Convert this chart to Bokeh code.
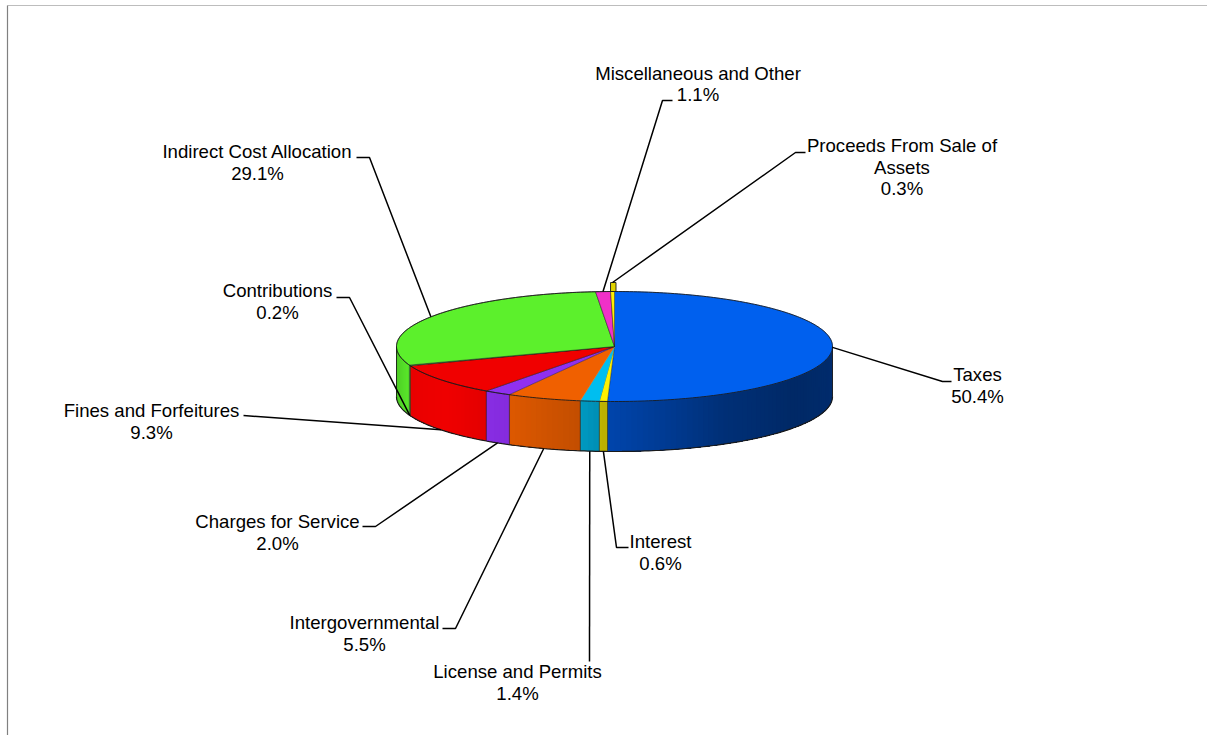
import numpy as np
from bokeh.plotting import figure
from bokeh.models import Range1d
from bokeh.embed import file_html
from bokeh.resources import INLINE
from bokeh.core.properties import value

# Revenue sources in percent, clockwise from twelve o'clock
categories = ["Taxes", "Interest", "License and Permits", "Intergovernmental",
              "Charges for Service", "Fines and Forfeitures", "Contributions",
              "Indirect Cost Allocation", "Miscellaneous and Other",
              "Proceeds From Sale of Assets"]
shares = [50.4, 0.6, 1.4, 5.5, 2.0, 9.3, 0.2, 29.1, 1.1, 0.3]
share_labels = ["50.4%", "0.6%", "1.4%", "5.5%", "2.0%", "9.3%", "0.2%", "29.1%", "1.1%", "0.3%"]
colors = ["#0060EE", "#FFF000", "#00BEF0", "#F06000", "#9030F0",
          "#F00000", "#40E040", "#5CF02C", "#F030C8", "#FFF000"]

# Callout layout: text lines, text centre, first line middle, elbow and hook end
label_lines = [["Taxes"], ["Interest"], ["License and Permits"], ["Intergovernmental"],
               ["Charges for Service"], ["Fines and Forfeitures"], ["Contributions"],
               ["Indirect Cost Allocation"], ["Miscellaneous and Other"],
               ["Proceeds From Sale of", "Assets"]]
label_x = [977, 660, 517, 364, 277, 151, 277, 257, 697.5, 901.5]
label_y = [374, 541, 671, 622, 521, 410, 290, 151, 72.5, 145]
elbows = [(942, 381), (616, 547), (589, 661), (455, 628), (375, 526), (243, 415),
          (349, 297), (369, 157), (662, 100), (795, 152)]
hooks = [(951, 381), (628, 547), (589, 661), (442, 628), (362, 526), (243, 415),
         (336, 297), (356, 157), (672, 100), (805, 152)]

CX, CY, RX, RY, DEPTH, RAISED = 614, 346, 218, 55, 50, 9
ROTATION = 0.4
FONT = "Liberation Sans"
FONT_SIZE = "18.6px"


def rim(deg):
    t = np.radians(deg)
    return CX + RX * np.sin(t), CY - RY * np.cos(t)


def shade(deg):
    return np.interp(deg, [90, 125, 150, 181, 190, 208, 230, 250, 270],
                     [.47, .43, .50, .72, .82, .92, 1.0, .97, .80])


def scaled(hex_color, k):
    rgb = [int(hex_color[i:i + 2], 16) for i in (1, 3, 5)]
    return "#%02x%02x%02x" % tuple(min(255, int(c * k)) for c in rgb)


p = figure(width=1207, height=735, output_backend="svg", toolbar_location=None,
           x_range=Range1d(0, 1207), y_range=Range1d(735, 0),
           min_border=0, outline_line_color=None, background_fill_color="white")
p.axis.visible = False
p.grid.visible = False

# Chart frame, top and left edges
p.line([7, 1207], [5, 5], line_color="#bdbdbd", line_width=1.2)
p.line([7, 7], [5, 735], line_color="#808080", line_width=1.2)

ends = np.cumsum(shares) * 3.6 + ROTATION
starts = np.concatenate([[0], ends[:-1]])
ends[-1] = 360
EDGE = "#1a1a1a"

# Side wall: each strip runs to the end of its slice and the next one paints over
# it, which keeps the shading free of seams
for a0, a1, col in zip(starts, ends, colors):
    lo, hi = max(a0, 90), min(a1, 270)
    if hi <= lo:
        continue
    cuts = np.arange(lo, hi, 1.5).tolist()
    for s0 in cuts:
        t = np.linspace(s0, hi, max(3, int(hi - s0) + 2))
        x, y = rim(t)
        fill = scaled(col, shade(s0 + .75))
        p.patch(np.r_[x, x[::-1]], np.r_[y, y[::-1] + DEPTH], fill_color=fill, line_color=None)
    for edge in (lo, hi):
        x, y = rim(edge)
        p.line([x, x], [y, y + DEPTH], line_color=EDGE, line_width=0.7, line_alpha=.6)

# The smallest slice shows its wall standing proud behind the disc
x0, y0 = rim(starts[-1])
x1, y1 = rim(ends[-1])
p.patch([x0, x1 + 1.5, x1 + 1.5, x0], [y0, y1, y1 - RAISED, y0 - RAISED],
        fill_color="#E0D400", line_color=EDGE, line_width=0.9)

# Top face of the disc
for a0, a1, col in zip(starts, ends, colors):
    t = np.linspace(a0, a1, max(3, int(a1 - a0) * 2))
    x, y = rim(t)
    outline = EDGE if col not in ("#00BEF0", "#F06000", "#0060EE") else col
    p.patch(np.r_[CX, x], np.r_[CY, y], fill_color=col, line_color=outline,
            line_width=0.6, line_alpha=.8)

# Outer rims
t = np.linspace(0, 360, 361)
x, y = rim(t)
p.line(x, y, line_color=EDGE, line_width=0.9)
t = np.linspace(90, 270, 181)
x, y = rim(t)
p.line(x, y + DEPTH, line_color=EDGE, line_width=1.2)
for side in (90, 270):
    x, y = rim(side)
    p.line([x, x], [y, y + DEPTH], line_color=EDGE, line_width=0.8)

# Callouts: leader from the middle of each slice out to its text
mids = (starts + ends) / 2
for i, m in enumerate(mids):
    ax, ay = rim(m)
    if 91 < m < 269:
        ay += DEPTH
    if i == len(mids) - 1:
        ay -= RAISED
    p.line([ax, elbows[i][0], hooks[i][0]], [ay, elbows[i][1], hooks[i][1]],
           line_color="black", line_width=1.5)
    rows = label_lines[i] + [share_labels[i]]
    for k, row in enumerate(rows):
        p.text([label_x[i]], [label_y[i] + k * 21.5], text=[row], text_align="center",
               text_baseline="middle", text_font=value(FONT), text_font_size=FONT_SIZE,
               text_color="black")

open("out.html", "w").write(file_html(p, INLINE))
